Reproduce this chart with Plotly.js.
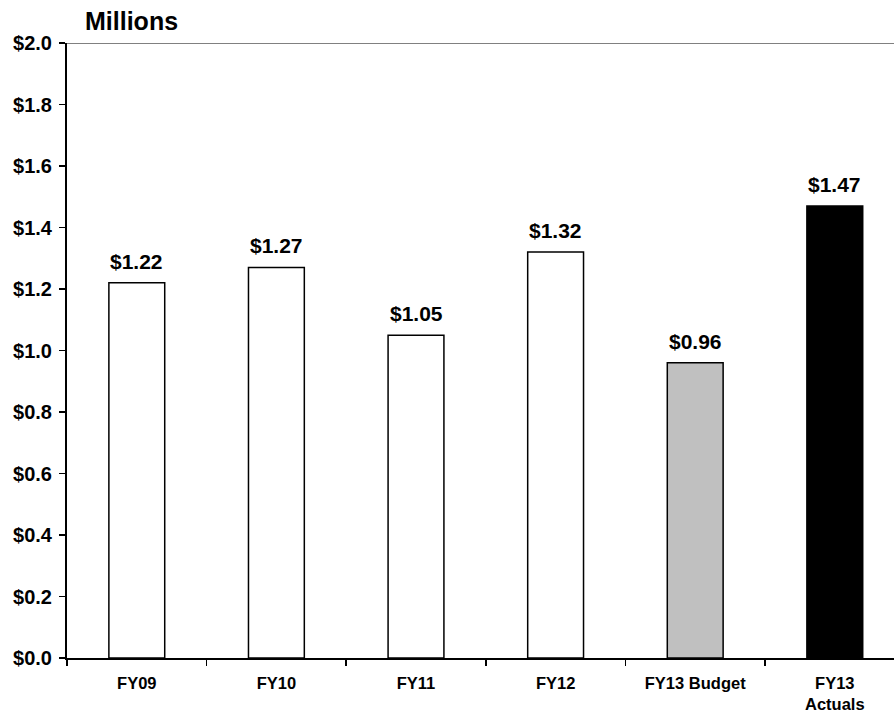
<!DOCTYPE html>
<html>
<head>
<meta charset="utf-8">
<script src="https://cdn.plot.ly/plotly-3.0.1.min.js"></script>
<style>
  html, body { margin: 0; padding: 0; background: #fff; }
  #chart { width: 894px; height: 717px; }
</style>
</head>
<body>
<div id="chart"></div>
<script>
// Annual spending, in millions of dollars
const categories = ["FY09", "FY10", "FY11", "FY12", "FY13 Budget", "FY13<br>Actuals"];
const values = [1.22, 1.27, 1.05, 1.32, 0.96, 1.47];
const barColors = ["#FFFFFF", "#FFFFFF", "#FFFFFF", "#FFFFFF", "#C0C0C0", "#000000"];
const yTickValues = [0, 0.2, 0.4, 0.6, 0.8, 1.0, 1.2, 1.4, 1.6, 1.8, 2.0];
const yTickLabels = yTickValues.map(v => "$" + v.toFixed(1));

const FONT = "Liberation Sans, Arial, sans-serif";

const trace = {
  type: "bar",
  x: categories,
  y: values,
  width: 0.4,
  marker: { color: barColors, line: { color: "#000000", width: 1.5 } },
  cliponaxis: false,
  hoverinfo: "skip"
};

// value labels sitting above each bar
const valueLabels = categories.map((c, i) => ({
  x: c,
  y: values[i],
  xref: "x", yref: "y",
  text: "<b>$" + values[i].toFixed(2) + "</b>",
  showarrow: false,
  xanchor: "center",
  yanchor: "bottom",
  yshift: 8,
  font: { family: FONT, size: 21, color: "#000000" }
}));

const layout = {
  width: 894,
  height: 717,
  margin: { l: 67, r: 0, t: 43, b: 59 },
  paper_bgcolor: "#FFFFFF",
  plot_bgcolor: "#FFFFFF",
  showlegend: false,
  bargap: 0.6,
  xaxis: {
    type: "category",
    range: [-0.5, 5.424],
    showgrid: false,
    showline: true,
    linecolor: "#000000",
    linewidth: 2,
    ticks: "outside",
    tickson: "boundaries",
    ticklen: 6,
    tickwidth: 1.5,
    tickcolor: "#000000",
    ticklabelstandoff: 9,
    tickfont: { family: FONT, size: 16.5, color: "#000000", weight: "bold" },
    fixedrange: true
  },
  yaxis: {
    range: [0, 2.0],
    tickvals: yTickValues,
    ticktext: yTickLabels,
    showgrid: false,
    zeroline: false,
    showline: true,
    linecolor: "#000000",
    linewidth: 2,
    ticks: "outside",
    ticklen: 6,
    tickwidth: 1.5,
    tickcolor: "#000000",
    ticklabelstandoff: 3,
    tickfont: { family: FONT, size: 20, color: "#000000", weight: "bold" },
    fixedrange: true
  },
  shapes: [
    {
      type: "line", xref: "paper", yref: "y",
      x0: 0, x1: 1, y0: 2.0, y1: 2.0,
      line: { color: "#808080", width: 2 }
    }
  ],
  annotations: [
    {
      text: "<b>Millions</b>",
      xref: "paper", yref: "paper",
      x: 0.0193, y: 1.0358,
      xanchor: "left", yanchor: "middle",
      showarrow: false,
      font: { family: FONT, size: 25, color: "#000000" }
    }
  ].concat(valueLabels)
};

Plotly.newPlot("chart", [trace], layout, { displayModeBar: false, staticPlot: true });
</script>
</body>
</html>
